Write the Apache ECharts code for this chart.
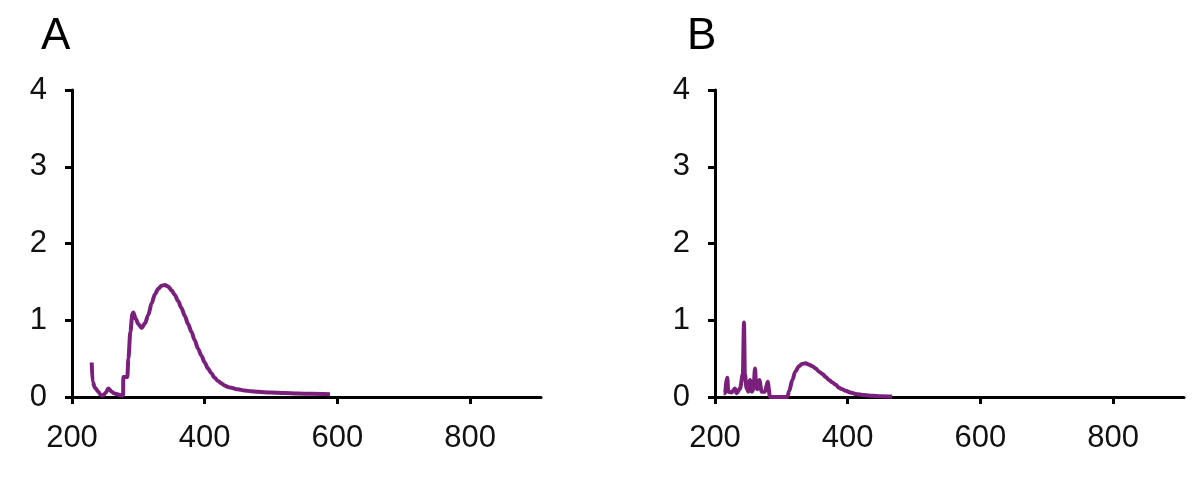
<!DOCTYPE html>
<html>
<head>
<meta charset="utf-8">
<script src="https://cdn.jsdelivr.net/npm/echarts@6/dist/echarts.min.js"></script>
<style>
html,body{margin:0;padding:0;background:#fff;}
#chart{width:1200px;height:481px;}
</style>
</head>
<body>
<div id="chart"></div>
<script>
// Panel labels
var panelTitles = ['A', 'B'];
// Axis ticks
var xTicks = [200, 400, 600, 800];
var yTicks = [0, 1, 2, 3, 4];
// Panel A: [wavelength, value]
var seriesA = [
  [229.7,0.45],[231,0.2],[234.7,0.12],[239.7,0.07],[243,0.03],[247,0.02],[251,0.06],[254.7,0.11],
  [259.8,0.07],[263,0.05],[267.4,0.04],[271,0.03],[275,0.02],[277,0.02],[277.4,0.26],[283.4,0.26],
  [285,0.5],[288,0.85],[291,1.08],[292.4,1.10],[296,1.02],[300,0.95],[305,0.90],[310,0.96],
  [315,1.07],[320,1.22],[325,1.34],[330,1.41],[335,1.45],[340,1.46],[345,1.44],[350,1.39],
  [355,1.33],[360,1.25],[365,1.16],[370,1.06],[375,0.95],[380,0.85],[385,0.74],[390,0.63],
  [395,0.54],[400,0.45],[405,0.37],[410,0.31],[415,0.25],[420,0.21],[425,0.18],[430,0.15],
  [435,0.13],[440,0.12],[450,0.10],[460,0.085],[470,0.075],[480,0.068],[500,0.058],[520,0.051],
  [540,0.046],[560,0.041],[589,0.035]
];
// Panel B: [wavelength, value]
var seriesB = [
  [213,0.05],[215,0.05],[217.6,0.22],[218.5,0.25],[220,0.07],[225,0.06],[230,0.11],[232.7,0.05],
  [237.7,0.11],[242,0.3],[243.7,0.97],[245,0.3],[247.7,0.11],[250.2,0.07],[252.8,0.22],[255.3,0.07],
  [258,0.1],[260.3,0.37],[262,0.15],[263.8,0.1],[266.8,0.22],[270.4,0.07],[275.4,0.07],[279.4,0.2],
  [282.9,0.0],[309,0],[312,0.08],[316.5,0.22],[321,0.33],[326.6,0.40],[331,0.43],[336.7,0.44],
  [342,0.42],[347,0.40],[351.8,0.37],[357,0.33],[362,0.30],[366.8,0.26],[372,0.22],[377,0.19],
  [381.9,0.16],[387,0.12],[392,0.10],[397,0.08],[404,0.06],[412,0.04],[425,0.025],[437,0.015],
  [450,0.01],[467,0.005]
];

var FONT = '"Liberation Sans Narrow","Liberation Sans","DejaVu Sans",sans-serif';
var LINE_COLOR = '#7a1f7b';

function xAxisFor(gi) {
  return {
    type: 'value', gridIndex: gi, min: 200, max: 907, interval: 200,
    axisLine: {show: true, onZero: false, lineStyle: {color: '#000', width: 3}},
    axisTick: {show: true, length: 7, lineStyle: {color: '#000', width: 3}, customValues: xTicks},
    axisLabel: {show: true, margin: 26, color: '#111', fontFamily: FONT, fontSize: 31, customValues: xTicks},
    splitLine: {show: false}
  };
}
function yAxisFor(gi) {
  return {
    type: 'value', gridIndex: gi, min: 0, max: 4, interval: 1,
    axisLine: {show: true, onZero: false, lineStyle: {color: '#000', width: 3}},
    axisTick: {show: true, length: 7, lineStyle: {color: '#000', width: 3}},
    axisLabel: {show: true, margin: 25, color: '#111', fontFamily: FONT, fontSize: 31},
    splitLine: {show: false}
  };
}

var chart = echarts.init(document.getElementById('chart'), null, {renderer: 'canvas'});
chart.setOption({
  backgroundColor: '#fff',
  animation: false,
  title: [
    {text: panelTitles[0], left: 41, top: 15, padding: 0,
     textStyle: {fontFamily: FONT, fontSize: 44, fontWeight: 'normal', color: '#000'}},
    {text: panelTitles[1], left: 687, top: 15, padding: 0,
     textStyle: {fontFamily: FONT, fontSize: 44, fontWeight: 'normal', color: '#000'}}
  ],
  grid: [
    {left: 72, top: 90, width: 469, height: 307, containLabel: false},
    {left: 715, top: 90, width: 469, height: 307, containLabel: false}
  ],
  xAxis: [xAxisFor(0), xAxisFor(1)],
  yAxis: [yAxisFor(0), yAxisFor(1)],
  series: [
    {type: 'line', xAxisIndex: 0, yAxisIndex: 0, data: seriesA, showSymbol: false,
     smooth: 0.3, smoothMonotone: 'x',
     lineStyle: {color: LINE_COLOR, width: 4}, z: 3},
    {type: 'line', xAxisIndex: 1, yAxisIndex: 1, data: seriesB, showSymbol: false,
     smooth: 0.3, smoothMonotone: 'x',
     lineStyle: {color: LINE_COLOR, width: 4}, z: 3}
  ]
});
</script>
</body>
</html>
